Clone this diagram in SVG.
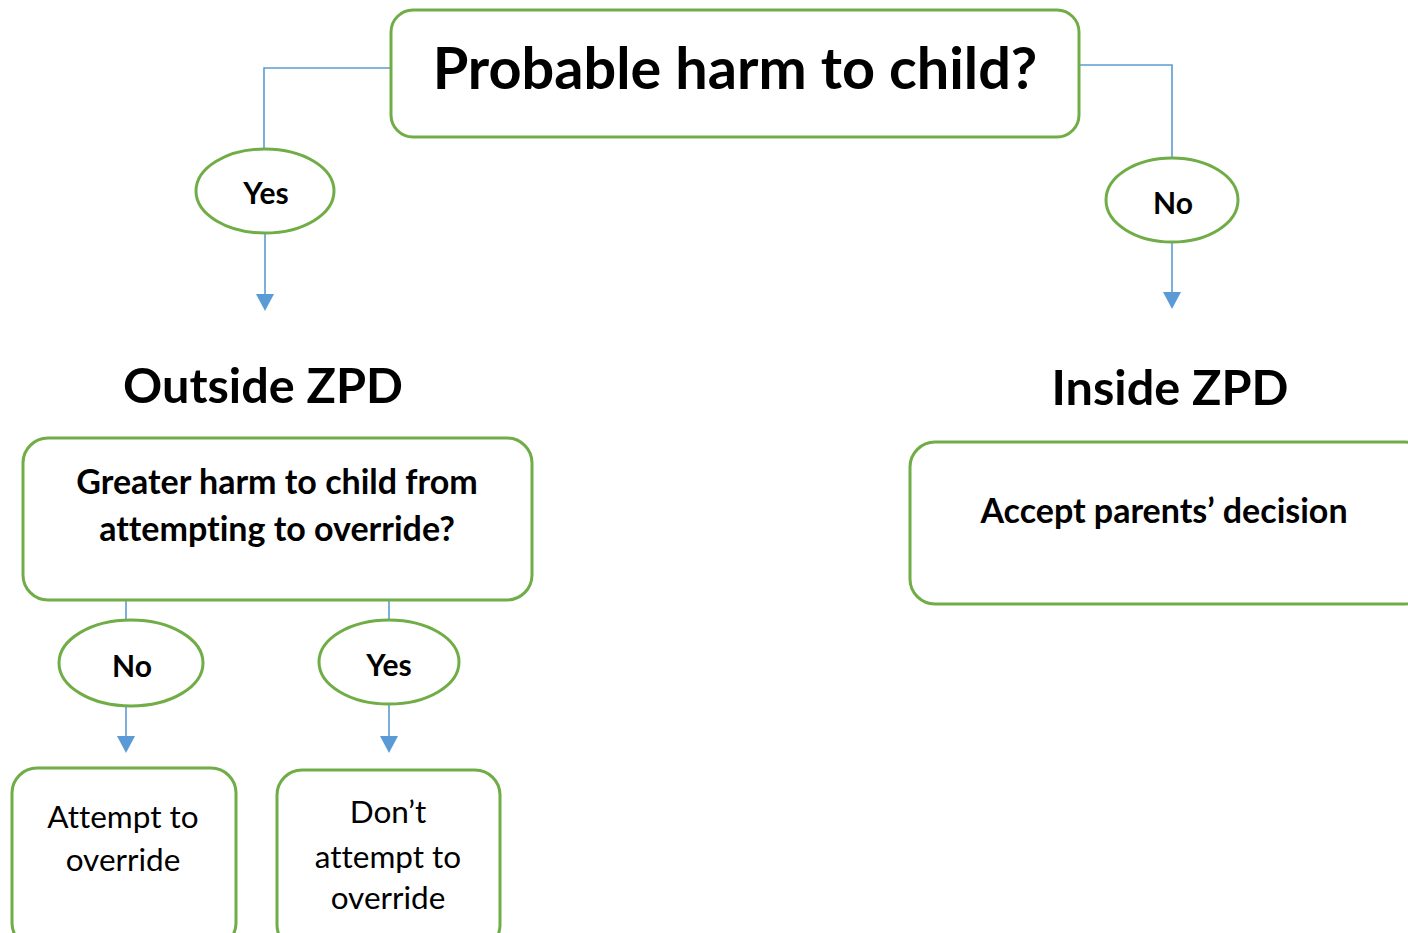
<svg xmlns="http://www.w3.org/2000/svg" width="1408" height="933" viewBox="0 0 1408 933">
<style>
.box{fill:#fff;stroke:#70AD47;stroke-width:3}
.conn{fill:none;stroke:#5B9BD5;stroke-width:1.6}
.ah{fill:#5B9BD5}
.t{font-family:Lato,"Open Sans",sans-serif;fill:#000;text-anchor:middle;font-variant-ligatures:none}
.b{font-weight:bold}
</style>
<rect width="1408" height="933" fill="#fff"/>
<g id="connectors">
<path class="conn" d="M391,68 H264 V150"/>
<path class="conn" d="M1077,65 H1172 V158"/>
<path class="conn" d="M265,233 V295"/>
<path class="ah" d="M256,294 L274,294 L265,311 Z"/>
<path class="conn" d="M1172,242 V293"/>
<path class="ah" d="M1163,292 L1181,292 L1172,309 Z"/>
<path class="conn" d="M126,600 V621"/>
<path class="conn" d="M389,598 V620"/>
<path class="conn" d="M126,706 V737"/>
<path class="ah" d="M117,736 L135,736 L126,753 Z"/>
<path class="conn" d="M389,705 V737"/>
<path class="ah" d="M380,736 L398,736 L389,753 Z"/>
</g>
<g id="n-top">
<rect class="box" x="391" y="10" width="688" height="127" rx="22"/>
<text class="t b" x="735" y="89" font-size="57.6">Probable harm to child?</text>
</g>
<g id="n-yes1">
<ellipse class="box" cx="265" cy="191" rx="69" ry="42"/>
<text class="t b" x="266" y="204" font-size="30">Yes</text>
</g>
<g id="n-no1">
<ellipse class="box" cx="1172" cy="200" rx="66" ry="42"/>
<text class="t b" x="1173" y="214" font-size="30">No</text>
</g>
<g id="n-outside">
<text class="t b" x="263" y="403" font-size="48.6">Outside ZPD</text>
</g>
<g id="n-inside">
<text class="t b" x="1170" y="405" font-size="48.6">Inside ZPD</text>
</g>
<g id="n-greater">
<rect class="box" x="23" y="438" width="509" height="162" rx="25"/>
<text class="t b" x="277" y="494" font-size="34">Greater harm to child from</text>
<text class="t b" x="277" y="541" font-size="34">attempting to override?</text>
</g>
<g id="n-accept">
<rect class="box" x="910" y="442" width="520" height="162" rx="25"/>
<text class="t b" x="1164" y="523" font-size="34">Accept parents’ decision</text>
</g>
<g id="n-no2">
<ellipse class="box" cx="131" cy="663" rx="72" ry="43"/>
<text class="t b" x="132" y="677" font-size="30">No</text>
</g>
<g id="n-yes2">
<ellipse class="box" cx="389" cy="662" rx="70" ry="42"/>
<text class="t b" x="389" y="676" font-size="30">Yes</text>
</g>
<g id="n-attempt">
<rect class="box" x="12" y="768" width="224" height="180" rx="25"/>
<text class="t" x="123" y="828" font-size="31.5">Attempt to</text>
<text class="t" x="123" y="871" font-size="31.5">override</text>
</g>
<g id="n-dont">
<rect class="box" x="277" y="770" width="223" height="180" rx="25"/>
<text class="t" x="388" y="823" font-size="31.5">Don’t</text>
<text class="t" x="388" y="868" font-size="31.5">attempt to</text>
<text class="t" x="388" y="909" font-size="31.5">override</text>
</g>
</svg>
